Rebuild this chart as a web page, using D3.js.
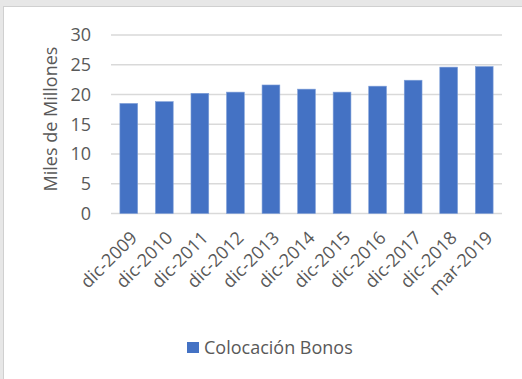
<!DOCTYPE html>
<html><head><meta charset="utf-8">
<script src="https://cdn.jsdelivr.net/npm/d3@7"></script>
<style>
html,body{margin:0;padding:0;background:#e7e7e7;}
svg{display:block;}
text{font-family:"Open Sans","Noto Sans",sans-serif;fill:#595959;}
</style></head><body>
<script>
const categories = ["dic-2009","dic-2010","dic-2011","dic-2012","dic-2013","dic-2014","dic-2015","dic-2016","dic-2017","dic-2018","mar-2019"];
const values = [18.5, 18.8, 20.2, 20.4, 21.6, 20.9, 20.4, 21.4, 22.4, 24.6, 24.7];
const yTicks = [0, 5, 10, 15, 20, 25, 30];
const seriesName = "Colocación Bonos";
const yTitle = "Miles de Millones";

const W = 522, H = 379;
const svg = d3.select("body").append("svg").attr("width", W).attr("height", H);
svg.append("rect").attr("x",0).attr("y",0).attr("width",W).attr("height",H).attr("fill","#e7e7e7");
svg.append("rect").attr("x",3.5).attr("y",6.5).attr("width",W).attr("height",H).attr("fill","#fff").attr("stroke","#d0d0d0");

const m = {left:111, right:502, top:35, bottom:213.5};
const x = d3.scaleBand().domain(categories).range([m.left, m.right]).paddingInner(0.5).paddingOuter(0.25);
const y = d3.scaleLinear().domain([0,30]).range([m.bottom, m.top]);

// gridlines
svg.append("g").selectAll("line").data(yTicks).join("line")
  .attr("x1", m.left).attr("x2", m.right)
  .attr("y1", d=>y(d)).attr("y2", d=>y(d))
  .attr("stroke","#d9d9d9").attr("stroke-width",1.5);

// y tick labels
svg.append("g").selectAll("text").data(yTicks).join("text")
  .attr("x", 91).attr("y", d=>y(d)).attr("dy","0.35em")
  .attr("text-anchor","end").attr("font-size",18).text(d=>d);

// bars
svg.append("g").selectAll("rect").data(values).join("rect")
  .attr("x",(d,i)=>x(categories[i])).attr("width",x.bandwidth())
  .attr("y",d=>y(d)).attr("height",d=>y(0)-y(d))
  .attr("fill","#4472c4").attr("stroke","#7f9fd8").attr("stroke-width",0.6);

// x labels
svg.append("g").selectAll("text").data(categories).join("text")
  .attr("transform", d=>`translate(${x(d)+x.bandwidth()/2+5},${m.bottom+21}) rotate(-45)`)
  .attr("text-anchor","end").attr("dy","0.35em").attr("font-size",18).text(d=>d);

// y title
svg.append("text").attr("transform","translate(57,119) rotate(-90)")
  .attr("text-anchor","middle").attr("font-size",18).text(yTitle);

// legend
svg.append("rect").attr("x",187).attr("y",342).attr("width",12).attr("height",11).attr("fill","#4472c4");
svg.append("text").attr("x",204).attr("y",354).attr("font-size",18).text(seriesName);
</script>
</body></html>
